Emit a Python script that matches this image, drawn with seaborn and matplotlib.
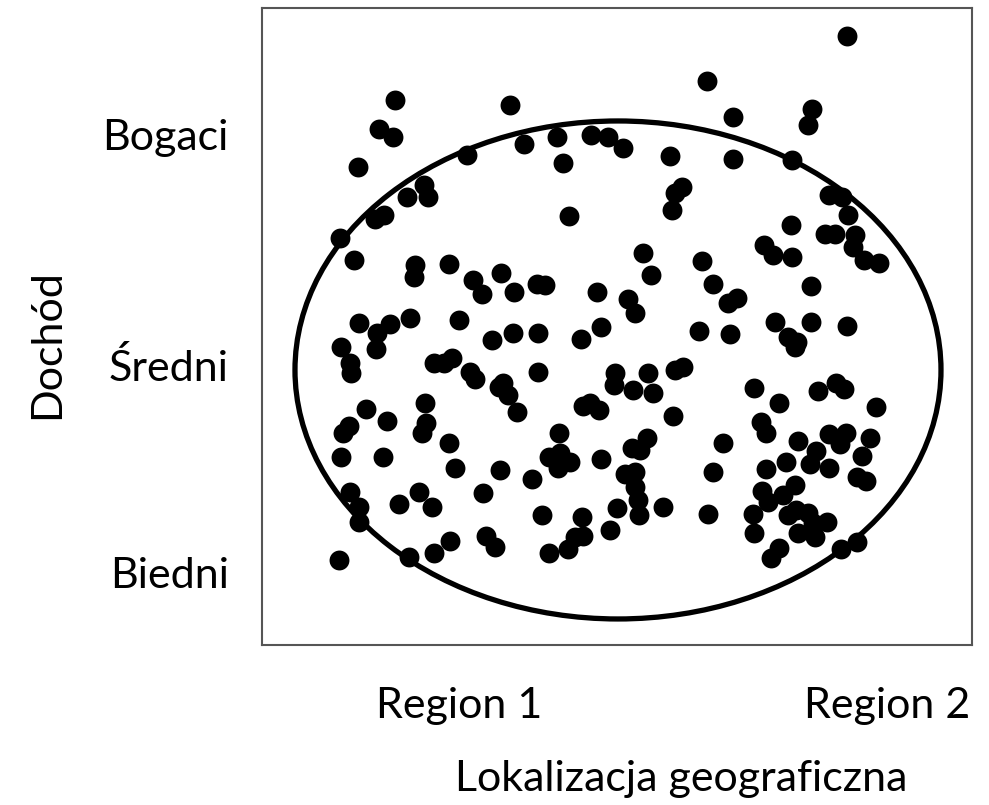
import numpy as np
import pandas as pd
import matplotlib
matplotlib.use("Agg")
import matplotlib.pyplot as plt
from matplotlib.patches import Ellipse
import seaborn as sns

# ====== DANE (jednostki umowne: lokalizacja 0-71, dochód 0-63.7) ======
lokalizacja = [
    13.3, 11.7, 13.1, 9.6, 20.5, 24.8, 16.2, 16.6, 14.5, 12.2,
    11.3, 7.8, 9.2, 15.3, 15.2, 18.7, 21.1, 22.0, 23.9, 9.7,
    11.5, 12.8, 14.8, 19.7, 7.9, 11.4, 8.8, 8.9, 17.2, 18.2,
    19.0, 20.8, 21.3, 23.0, 23.7, 10.4, 8.7, 8.1, 12.5, 16.3,
    16.4, 16.0, 18.7, 7.9, 12.1, 19.3, 23.8, 8.8, 9.7, 9.7,
    13.7, 15.7, 17.0, 22.1, 22.4, 23.3, 18.8, 17.2, 14.7, 7.7,
    25.1, 27.6, 31.9, 33.9, 37.3, 36.6, 43.7, 46.8, 27.6, 24.1,
    24.6, 25.5, 35.3, 35.2, 37.1, 38.6, 39.1, 41.3, 42.1, 32.1,
    32.8, 33.7, 41.1, 29.7, 28.7, 29.8, 30.8, 29.6, 33.9, 27.0,
    38.5, 37.0, 37.8, 36.3, 37.3, 37.3, 37.6, 37.7, 35.5, 34.8,
    40.1, 46.1, 45.1, 44.6, 28.0, 32.0, 32.1, 31.3, 30.6, 28.7,
    44.5, 47.1, 47.1, 26.2, 29.5, 30.1, 32.9, 34.6, 36.1, 40.8,
    42.0, 41.3, 41.0, 30.7, 38.1, 38.9, 44.0, 45.1, 46.6, 47.5,
    25.2, 27.5, 28.3, 33.5, 58.5, 55.0, 54.6, 53.0, 56.7, 58.0,
    58.6, 52.9, 56.3, 57.3, 59.3, 59.1, 60.2, 61.7, 50.2, 51.1,
    53.0, 54.9, 51.3, 54.9, 58.5, 52.6, 53.3, 53.5, 49.2, 51.7,
    55.6, 57.4, 58.2, 61.4, 49.9, 50.4, 53.6, 56.7, 58.4, 57.8,
    60.8, 60.0, 55.4, 54.8, 52.4, 50.4, 56.7, 59.5, 60.4, 50.0,
    50.6, 53.3, 52.1, 52.6, 53.4, 54.6, 55.1, 56.5, 49.1, 49.2,
    53.6, 55.3, 51.7, 50.9, 57.9, 59.5,
]
dochod = [
    54.5, 51.6, 50.8, 47.8, 49.0, 54.0, 46.0, 44.8, 44.8, 43.0,
    42.6, 40.7, 38.5, 38.0, 36.8, 38.1, 36.5, 35.1, 37.2, 32.2,
    31.2, 32.1, 32.7, 32.5, 29.8, 29.6, 28.2, 27.2, 28.2, 28.2,
    28.7, 27.3, 26.6, 30.5, 25.8, 23.6, 21.9, 21.2, 22.4, 24.2,
    22.2, 21.2, 20.2, 18.8, 18.8, 17.7, 17.5, 15.3, 13.8, 12.3,
    14.1, 15.3, 13.8, 15.2, 10.9, 9.8, 10.4, 9.2, 8.8, 8.5,
    31.2, 31.2, 30.6, 31.8, 33.2, 34.6, 31.4, 31.1, 27.3, 26.2,
    25.0, 23.3, 27.2, 26.0, 25.5, 27.2, 25.2, 27.5, 27.8, 23.9,
    24.2, 23.5, 22.9, 21.2, 18.8, 19.2, 18.3, 17.7, 18.6, 16.6,
    20.7, 19.7, 19.5, 17.1, 17.3, 15.8, 14.5, 13.0, 13.7, 11.5,
    13.8, 20.2, 17.3, 13.1, 13.0, 12.8, 10.9, 10.8, 9.6, 9.2,
    56.4, 52.8, 48.6, 50.1, 50.8, 48.2, 51.0, 50.8, 49.7, 48.9,
    45.8, 45.2, 43.5, 42.9, 39.2, 37.0, 38.4, 36.1, 34.2, 34.7,
    35.3, 36.1, 36.0, 35.3, 60.9, 53.6, 52.0, 48.5, 45.0, 44.8,
    43.0, 42.0, 41.1, 41.1, 41.0, 39.8, 38.5, 38.2, 40.0, 39.0,
    38.8, 35.9, 32.3, 32.3, 31.9, 30.8, 29.8, 30.3, 25.7, 24.2,
    25.4, 26.2, 25.6, 23.8, 22.3, 21.2, 20.4, 21.1, 21.2, 20.1,
    20.7, 18.9, 19.4, 18.1, 18.3, 17.6, 17.7, 16.8, 16.4, 15.4,
    14.3, 16.0, 15.0, 13.0, 13.5, 13.2, 12.2, 12.3, 13.1, 11.2,
    11.2, 10.8, 9.7, 8.7, 9.6, 10.3,
]

y_ticks = [51.0, 28.0, 7.2]
y_labels = ["Bogaci", "Średni", "Biedni"]
x_ticks = [19.7, 62.5]
x_labels = ["Region 1", "Region 2"]

# elipsa "populacji": środek, szerokość, wysokość
elipsa_srodek = (35.6, 27.5)
elipsa_szer = 64.6
elipsa_wys = 49.8

df = pd.DataFrame({"Lokalizacja": lokalizacja, "Dochod": dochod})

# ====== PLOT ======
sns.set_style("white")
plt.rcParams["font.family"] = ["Lato", "DejaVu Sans"]
plt.rcParams["text.color"] = "black"
plt.rcParams["xtick.color"] = "black"
plt.rcParams["ytick.color"] = "black"
plt.rcParams["axes.labelcolor"] = "black"

FS = 31

fig = plt.figure(figsize=(9.89, 8.05), dpi=100)
ax = fig.add_axes([0.2649, 0.1988, 0.7179, 0.7913])

sns.scatterplot(data=df, x="Lokalizacja", y="Dochod", ax=ax,
                color="black", s=205, linewidth=0, zorder=3)

ax.add_patch(Ellipse(elipsa_srodek, elipsa_szer, elipsa_wys,
                     fill=False, edgecolor="black", linewidth=3.8, zorder=2))

ax.set_xlim(0, 71)
ax.set_ylim(0, 63.7)

ax.set_xticks(x_ticks)
ax.set_xticklabels(x_labels, fontsize=FS)
ax.set_yticks(y_ticks)
ax.set_yticklabels(y_labels, fontsize=FS)
ax.tick_params(axis="both", length=0)
ax.tick_params(axis="x", pad=30)
ax.tick_params(axis="y", pad=24)

ax.set_xlabel("Lokalizacja geograficzna", fontsize=FS)
ax.set_ylabel("Dochód", fontsize=FS)
ax.xaxis.set_label_coords(0.59, -0.18)
ax.yaxis.set_label_coords(-0.276, 0.472)

for sp in ax.spines.values():
    sp.set_color("#555555")
    sp.set_linewidth(1.5)

fig.savefig("out.png", dpi=100)
